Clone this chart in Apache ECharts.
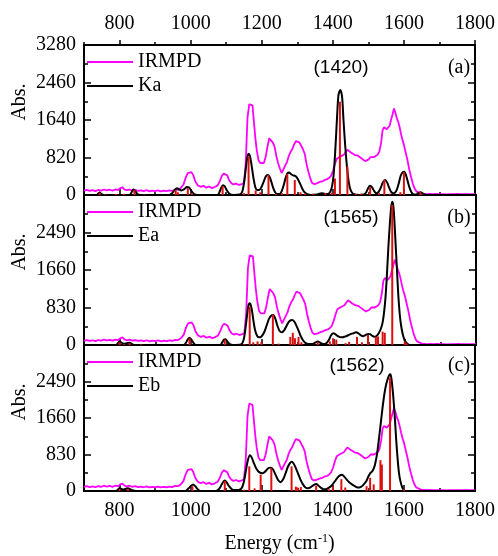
<!DOCTYPE html>
<html><head><meta charset="utf-8">
<script src="https://cdn.jsdelivr.net/npm/echarts@6/dist/echarts.min.js"></script>
<style>html,body{margin:0;padding:0;background:#fff}#c{width:498px;height:556px}</style>
</head><body><div id="c"></div>
<script>
// ---------- data (energy cm-1, absorbance) ----------
const irmpd = [[700,95],[708,110],[716,90],[724,105],[732,85],[740,110],[748,95],[756,120],[764,100],[772,115],[780,95],[788,120],[796,110],[802,150],[808,170],[814,120],[820,105],[828,120],[836,95],[844,110],[852,90],[860,100],[868,85],[876,105],[884,80],[892,95],[900,85],[908,100],[916,80],[924,95],[932,85],[940,100],[948,90],[956,115],[964,110],[972,150],[980,230],[986,380],[992,480],[997,510],[1002,500],[1007,440],[1013,300],[1020,210],[1028,180],[1036,200],[1044,160],[1052,185],[1060,150],[1068,175],[1076,210],[1082,300],[1088,420],[1093,470],[1098,475],[1103,430],[1108,330],[1114,260],[1120,230],[1128,250],[1136,220],[1144,240],[1150,260],[1155,700],[1160,1700],[1165,1985],[1170,1990],[1174,1960],[1178,1600],[1182,1250],[1186,980],[1191,760],[1196,700],[1201,720],[1206,700],[1211,830],[1216,1050],[1221,1240],[1226,1220],[1231,1150],[1236,1060],[1241,860],[1246,700],[1251,580],[1256,480],[1261,520],[1266,640],[1271,720],[1276,850],[1281,940],[1286,1000],[1291,1100],[1296,1180],[1301,1210],[1306,1150],[1311,1120],[1316,1000],[1321,900],[1326,680],[1331,520],[1336,380],[1341,270],[1347,240],[1353,250],[1359,270],[1365,290],[1371,300],[1377,330],[1383,340],[1389,370],[1395,420],[1401,540],[1406,680],[1411,790],[1416,810],[1421,840],[1426,860],[1431,880],[1436,940],[1441,990],[1446,960],[1451,930],[1456,900],[1461,880],[1466,850],[1471,860],[1476,830],[1481,800],[1486,770],[1491,740],[1496,720],[1501,780],[1506,830],[1511,850],[1516,830],[1521,860],[1526,880],[1531,950],[1536,1150],[1540,1420],[1544,1480],[1548,1450],[1552,1440],[1556,1420],[1560,1520],[1564,1650],[1568,1760],[1572,1890],[1576,1800],[1580,1680],[1584,1600],[1588,1480],[1592,1330],[1596,1200],[1600,1100],[1605,930],[1610,760],[1615,560],[1620,400],[1625,250],[1630,140],[1635,80],[1640,50],[1648,30],[1656,25],[1664,20],[1672,25],[1680,18],[1690,22],[1700,18],[1710,20],[1720,15],[1730,20],[1740,18],[1750,22],[1760,17],[1770,20],[1780,18],[1790,20],[1800,18]];

const kaCurve = [[700,0],[735,0],[740,30],[744,55],[748,30],[755,0],[828,0],[834,60],[839,120],[844,90],[850,20],[858,0],[940,0],[948,40],[955,110],[962,150],[968,120],[975,100],[982,130],[990,175],[995,170],[1002,90],[1010,20],[1018,0],[1075,0],[1081,60],[1086,160],[1091,215],[1096,190],[1102,100],[1110,20],[1120,0],[1138,10],[1145,70],[1150,250],[1155,560],[1159,800],[1163,900],[1167,850],[1172,620],[1177,360],[1182,170],[1187,110],[1193,110],[1199,170],[1205,280],[1211,400],[1217,440],[1222,400],[1227,290],[1232,160],[1237,70],[1243,20],[1250,20],[1256,80],[1262,220],[1267,370],[1272,470],[1277,490],[1282,460],[1288,430],[1294,420],[1299,380],[1304,310],[1310,210],[1316,110],[1322,50],[1330,10],[1340,0],[1355,10],[1362,30],[1369,40],[1376,25],[1383,20],[1390,40],[1394,90],[1398,200],[1402,420],[1407,980],[1412,1720],[1416,2190],[1421,2296],[1426,2150],[1430,1640],[1435,1060],[1440,600],[1444,330],[1448,160],[1454,50],[1462,10],[1475,0],[1488,10],[1494,60],[1500,160],[1505,200],[1510,170],[1516,90],[1522,40],[1528,60],[1535,160],[1541,280],[1547,330],[1553,270],[1559,150],[1565,60],[1571,40],[1578,80],[1585,240],[1591,420],[1597,505],[1601,510],[1606,430],[1612,260],[1618,110],[1624,30],[1630,10],[1637,20],[1643,50],[1647,60],[1652,40],[1658,10],[1665,0],[1800,0]];

const eaCurve = [[700,0],[790,0],[795,40],[800,80],[806,50],[812,25],[820,40],[828,50],[835,20],[842,0],[980,0],[986,50],[991,120],[996,160],[1001,120],[1007,50],[1014,0],[1082,0],[1088,60],[1093,120],[1097,130],[1102,80],[1109,20],[1118,0],[1140,10],[1147,90],[1152,300],[1157,620],[1161,860],[1165,922],[1170,820],[1175,560],[1180,330],[1186,200],[1192,170],[1198,190],[1205,270],[1212,420],[1219,580],[1225,650],[1231,664],[1237,580],[1243,420],[1249,310],[1255,280],[1262,330],[1270,450],[1277,530],[1284,553],[1290,520],[1296,430],[1302,320],[1308,200],[1315,100],[1322,40],[1330,20],[1340,20],[1348,50],[1356,75],[1364,45],[1372,20],[1380,40],[1387,110],[1393,210],[1399,258],[1405,240],[1411,200],[1418,175],[1425,170],[1432,185],[1440,210],[1448,240],[1456,260],[1463,280],[1469,265],[1476,220],[1483,195],[1490,220],[1497,245],[1503,240],[1509,200],[1515,180],[1521,200],[1527,260],[1533,360],[1538,500],[1542,720],[1546,1050],[1550,1550],[1554,2150],[1558,2650],[1562,3050],[1565,3172],[1568,3080],[1571,2750],[1574,2300],[1578,1700],[1582,1100],[1586,680],[1590,420],[1595,220],[1600,100],[1606,40],[1614,0],[1800,0]];

const ebCurve = [[700,0],[790,0],[795,30],[800,60],[806,45],[812,35],[818,50],[824,65],[830,40],[838,10],[846,0],[985,0],[993,50],[1000,110],[1007,148],[1013,110],[1020,40],[1028,0],[1070,0],[1078,30],[1085,110],[1091,200],[1096,237],[1101,200],[1108,110],[1116,40],[1125,20],[1135,25],[1143,60],[1149,180],[1155,440],[1161,700],[1167,812],[1172,760],[1178,630],[1184,520],[1190,450],[1196,415],[1202,405],[1208,430],[1214,480],[1220,525],[1227,531],[1233,470],[1240,350],[1246,250],[1253,200],[1260,260],[1267,400],[1273,540],[1279,630],[1284,664],[1290,620],[1296,520],[1302,400],[1309,260],[1316,150],[1323,80],[1330,60],[1337,80],[1345,130],[1353,160],[1360,120],[1367,70],[1374,40],[1380,40],[1388,70],[1396,120],[1404,200],[1412,290],[1419,350],[1426,369],[1432,330],[1438,270],[1446,200],[1454,150],[1462,110],[1470,80],[1478,90],[1486,140],[1494,220],[1500,330],[1506,410],[1512,460],[1518,580],[1524,820],[1530,1200],[1535,1550],[1540,1900],[1545,2200],[1550,2420],[1555,2560],[1559,2640],[1562,2656],[1565,2550],[1568,2330],[1571,2050],[1575,1600],[1578,1200],[1582,760],[1586,420],[1590,230],[1595,90],[1600,20],[1606,0],[1800,0]];

const kaSticks = [[744,50],[760,15],[790,20],[812,25],[842,110],[870,15],[958,100],[964,60],[992,150],[1004,30],[1090,190],[1150,40],[1163,840],[1183,100],[1196,60],[1219,437],[1240,20],[1257,40],[1272,460],[1293,330],[1309,60],[1322,30],[1345,30],[1379,40],[1397,50],[1406,360],[1420,2040],[1441,620],[1465,20],[1480,30],[1505,170],[1530,40],[1545,330],[1560,30],[1590,60],[1600,500],[1646,70]];
const eaSticks = [[800,60],[812,20],[828,40],[860,15],[996,150],[1095,120],[1150,20],[1165,848],[1175,60],[1187,80],[1198,70],[1230,679],[1246,30],[1279,180],[1286,270],[1292,150],[1302,180],[1310,60],[1356,60],[1390,80],[1399,150],[1408,120],[1434,40],[1444,70],[1466,180],[1480,60],[1497,220],[1519,180],[1525,190],[1538,295],[1544,270],[1565,3100],[1600,80],[1605,40]];
const ebSticks = [[800,40],[824,50],[1005,110],[1096,230],[1150,30],[1165,560],[1180,60],[1197,369],[1227,518],[1284,560],[1296,100],[1301,80],[1310,90],[1353,120],[1389,40],[1400,100],[1424,270],[1435,80],[1495,110],[1505,300],[1515,150],[1534,701],[1538,600],[1561,2582],[1600,40]];

const xMajor = [800,1000,1200,1400,1600,1800];
const xMinor = [700,900,1100,1300,1500,1700];
const yMaxA = 3280, yStepA = 820;
const yMaxBC = 3320, yStepBC = 830;
const calcNames = ['Ka','Ea','Eb'];
const peakLabels = ['(1420)','(1565)','(1562)'];
const panelLabels = ['(a)','(b)','(c)'];

// ---------- layout ----------
const SERIF = '"Liberation Serif", "Times New Roman", serif';
const L = 84, W = 392, H = 150;
const tops = [45, 195, 345];
const maxes = [yMaxA, yMaxBC, yMaxBC];
const steps = [yStepA, yStepBC, yStepBC];
const curves = [kaCurve, eaCurve, ebCurve];
const sticks = [kaSticks, eaSticks, ebSticks];
const peakX = [341, 351, 357];
const labelY = [68, 218, 366];
const plain = v => String(v);

const grid = [], xAxis = [], yAxis = [], series = [], legend = [], graphic = [];
const tickStyle = {color:'#000', width:1.5};
const mainX = [];
for (let i = 0; i < 3; i++) {
  grid.push({left:L, top:tops[i], width:W, height:H, show:true, borderColor:'#000', borderWidth:2, backgroundColor:'transparent'});
  const base = {gridIndex:i, type:'value', min:700, max:1800, splitLine:{show:false}, axisLine:{show:false}};
  mainX.push(xAxis.length);
  const xa = Object.assign({}, base, {
    position:'bottom',
    axisTick:{show:true, inside:true, length:6, customValues:xMajor, lineStyle:tickStyle},
    axisLabel:{show:i===2, customValues:xMajor, formatter:plain, margin:10, fontFamily:SERIF, fontSize:20, color:'#000'}
  });
  if (i === 2) {
    xa.name = 'Energy (cm{sup|-1})';
    xa.nameLocation = 'middle';
    xa.nameGap = 42;
    xa.nameTextStyle = {fontFamily:SERIF, fontSize:20, color:'#000', lineHeight:22,
      rich:{sup:{fontFamily:SERIF, fontSize:12, color:'#000', verticalAlign:'top', lineHeight:22}}};
  }
  xAxis.push(xa);
  xAxis.push(Object.assign({}, base, {position:'bottom',
    axisTick:{show:true, inside:true, length:3, customValues:xMinor, lineStyle:tickStyle},
    axisLabel:{show:false}}));
  if (i === 0) {
    xAxis.push(Object.assign({}, base, {position:'top',
      axisTick:{show:true, inside:false, length:5, customValues:xMajor, lineStyle:tickStyle},
      axisLabel:{show:true, customValues:xMajor, formatter:plain, margin:11, fontFamily:SERIF, fontSize:20, color:'#000'}}));
    xAxis.push(Object.assign({}, base, {position:'top',
      axisTick:{show:true, inside:false, length:3, customValues:xMinor, lineStyle:tickStyle},
      axisLabel:{show:false}}));
  }
  const ybase = {gridIndex:i, type:'value', min:0, max:maxes[i], interval:steps[i],
    axisLine:{show:false}, splitLine:{show:false}, minorSplitLine:{show:false},
    axisTick:{show:true, inside:true, length:7, lineStyle:tickStyle},
    minorTick:{show:true, splitNumber:2, length:4, lineStyle:tickStyle}};
  yAxis.push(Object.assign({}, ybase, {position:'left',
    axisLabel:{margin:8, formatter:plain, fontFamily:SERIF, fontSize:20, color:'#000', showMaxLabel:i===0, showMinLabel:true}}));
  yAxis.push(Object.assign({}, ybase, {position:'right', axisLabel:{show:false}}));

  series.push({type:'line', name:'IRMPD', xAxisIndex:mainX[i], yAxisIndex:2*i, data:irmpd,
    symbol:'none', lineStyle:{color:'#ff00ff', width:1.8}, itemStyle:{color:'#ff00ff'}, z:2});
  series.push({type:'line', name:calcNames[i], xAxisIndex:mainX[i], yAxisIndex:2*i, data:curves[i],
    symbol:'none', smooth:0.3, lineStyle:{color:'#000', width:2}, itemStyle:{color:'#000'}, z:3});
  series.push({type:'bar', name:'sticks'+i, xAxisIndex:mainX[i], yAxisIndex:2*i, data:sticks[i],
    barWidth:2, itemStyle:{color:'#dd1010'}, z:4});

  legend.push({data:['IRMPD', calcNames[i]], orient:'vertical', left:82, top:tops[i]+2,
    itemWidth:46, itemHeight:2, itemGap:4, icon:'rect', selectedMode:false,
    textStyle:{fontFamily:SERIF, fontSize:20, color:'#000', lineHeight:20}});

  graphic.push({type:'text', x:20, y:tops[i]+57, rotation:Math.PI/2,
    style:{text:'Abs.', font:'20px "Liberation Serif"', fill:'#000', align:'center', verticalAlign:'middle'}});
  graphic.push({type:'text', x:peakX[i], y:labelY[i],
    style:{text:peakLabels[i], font:'19px "Liberation Sans"', fill:'#000', align:'center', verticalAlign:'middle'}});
  graphic.push({type:'text', x:459, y:labelY[i],
    style:{text:panelLabels[i], font:'20px "Liberation Serif"', fill:'#000', align:'center', verticalAlign:'middle'}});
}

const chart = echarts.init(document.getElementById('c'));
chart.setOption({animation:false, backgroundColor:'#fff', grid, xAxis, yAxis, series, legend, graphic});
</script></body></html>
